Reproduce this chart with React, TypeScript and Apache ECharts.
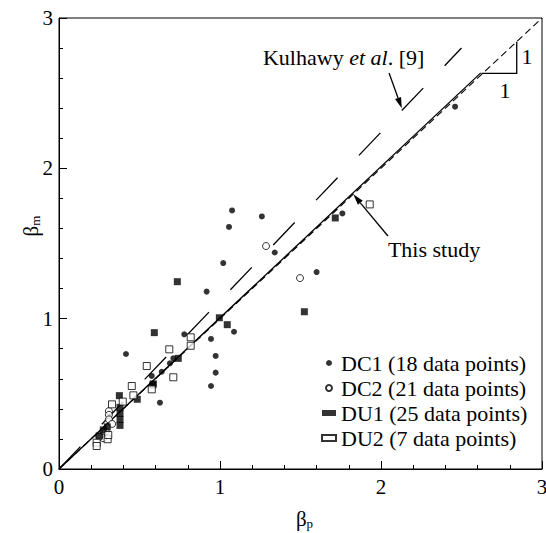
import React, { useEffect, useRef } from 'react';
import * as echarts from 'echarts';

// ---- data (beta_p, beta_m) ----
const dc1: number[][] = [
  [2.46, 2.41], [1.075, 1.72], [1.26, 1.68], [1.056, 1.61], [1.34, 1.44],
  [1.02, 1.37], [0.917, 1.18], [1.6, 1.31], [0.778, 0.896], [1.087, 0.913],
  [0.944, 0.865], [0.973, 0.752], [0.973, 0.641], [0.944, 0.552], [1.76, 1.7],
  [0.627, 0.441], [0.416, 0.765], [0.638, 0.647], [0.689, 0.703], [0.576, 0.619],
  [0.71, 0.736]
];
const dc2: number[][] = [
  [1.286, 1.483], [1.497, 1.27], [0.31, 0.385], [0.31, 0.36], [0.31, 0.33],
  [0.275, 0.205], [0.25, 0.215], [0.29, 0.25], [0.33, 0.3]
];
const du1: number[][] = [
  [1.716, 1.67], [0.735, 1.246], [1.524, 1.046], [0.996, 1.006], [1.045, 0.96],
  [0.592, 0.907], [0.741, 0.736], [0.582, 0.559], [0.375, 0.488], [0.379, 0.41],
  [0.379, 0.37], [0.379, 0.33], [0.379, 0.29], [0.275, 0.26], [0.486, 0.464],
  [0.586, 0.566], [0.3, 0.28], [0.25, 0.22]
];
const du2: number[][] = [
  [1.93, 1.76], [0.818, 0.876], [0.818, 0.82], [0.685, 0.796], [0.71, 0.61],
  [0.545, 0.685], [0.452, 0.552], [0.462, 0.49], [0.329, 0.43], [0.396, 0.448],
  [0.576, 0.53], [0.302, 0.198], [0.234, 0.175], [0.234, 0.153], [0.306, 0.226]
];
const oneToOne: number[][] = [[0, 0], [3, 3]];
const thisStudy: number[][] = [[0, 0], [2.62, 2.635]];
const kulhawy: number[][] = [[0, 0], [2.5, 2.8]];

const seriesNames = [
  'DC1 (18 data points)',
  'DC2 (21 data points)',
  'DU1 (25 data points)',
  'DU2 (7 data points)'
];

// ---- annotation anchors (data coords) ----
const kulhawyLabel = [1.267, 2.734];
const kulhawyArrow = [[2.05, 2.634], [2.129, 2.399]];
const studyLabel = [2.043, 1.463];
const studyArrow = [[2.043, 1.55], [1.828, 1.827]];
const slopeTri = [[2.625, 2.632], [2.843, 2.632], [2.843, 2.842]];
const slopeLabelV = [2.907, 2.743];
const slopeLabelH = [2.77, 2.521];

const FONT = "'Liberation Serif', 'Times New Roman', serif";

export default function App() {
  const ref = useRef<HTMLDivElement>(null);
  useEffect(() => {
    const chart = echarts.init(ref.current!, null, { renderer: 'svg' });
    const axisCommon = {
      type: 'value',
      min: 0,
      max: 3,
      interval: 1,
      axisLine: { show: true, lineStyle: { color: '#000', width: 1 } },
      axisTick: { show: true, inside: true, length: 8, lineStyle: { color: '#000', width: 1 } },
      minorTick: { show: true, splitNumber: 5, length: 4, lineStyle: { color: '#000', width: 1 } },
      splitLine: { show: false },
      minorSplitLine: { show: false }
    };
    const lineSeries = (data: number[][], type: any, width: number) => ({
      type: 'line',
      data,
      showSymbol: false,
      symbol: 'none',
      silent: true,
      legendHoverLink: false,
      lineStyle: { color: '#000', width, type },
      z: 1
    });
    chart.setOption({
      animation: false,
      backgroundColor: '#fff',
      textStyle: { fontFamily: FONT },
      grid: {
        left: 59, right: 4, top: 18, bottom: 64,
        show: true, borderColor: '#000', borderWidth: 1,
        containLabel: false, outerBoundsMode: 'none'
      },
      xAxis: {
        ...axisCommon,
        axisLabel: { color: '#000', fontFamily: FONT, fontSize: 21, margin: 7 }
      },
      yAxis: {
        ...axisCommon,
        axisLabel: { color: '#000', fontFamily: FONT, fontSize: 21, margin: 6 }
      },
      legend: {
        show: true,
        orient: 'vertical',
        left: 321,
        top: 352,
        padding: 0,
        itemGap: 3,
        itemWidth: 14,
        itemHeight: 6,
        selectedMode: false,
        data: seriesNames,
        textStyle: { fontFamily: FONT, fontSize: 22, color: '#000' }
      },
      series: [
        lineSeries(oneToOne, [7, 4], 1.1),
        lineSeries(thisStudy, 'solid', 1.3),
        lineSeries(kulhawy, [31, 31], 1.3),
        {
          name: seriesNames[0], type: 'scatter', data: dc1, symbol: 'circle', symbolSize: 6,
          itemStyle: { color: '#000' }, z: 3
        },
        {
          name: seriesNames[1], type: 'scatter', data: dc2, symbol: 'circle', symbolSize: 7,
          itemStyle: { color: '#fff', borderColor: '#000', borderWidth: 1 }, z: 3
        },
        {
          name: seriesNames[2], type: 'scatter', data: du1, symbol: 'rect', symbolSize: 7,
          itemStyle: { color: '#000' }, z: 3
        },
        {
          name: seriesNames[3], type: 'scatter', data: du2, symbol: 'rect', symbolSize: 7,
          itemStyle: { color: '#fff', borderColor: '#000', borderWidth: 1 }, z: 3
        }
      ]
    });

    const P = (p: number[]) => chart.convertToPixel({ gridIndex: 0 }, p) as number[];
    const arrow = (from: number[], to: number[]) => {
      const a = P(from);
      const b = P(to);
      const dx = b[0] - a[0];
      const dy = b[1] - a[1];
      const len = Math.sqrt(dx * dx + dy * dy);
      const ux = dx / len;
      const uy = dy / len;
      const hl = 11;
      const hw = 3.2;
      const bx = b[0] - ux * hl;
      const by = b[1] - uy * hl;
      return [
        {
          type: 'line',
          shape: { x1: a[0], y1: a[1], x2: bx, y2: by },
          style: { stroke: '#000', lineWidth: 1.3 },
          silent: true
        },
        {
          type: 'polygon',
          shape: {
            points: [
              [b[0], b[1]],
              [bx - uy * hw, by + ux * hw],
              [bx + uy * hw, by - ux * hw]
            ]
          },
          style: { fill: '#000' },
          silent: true
        }
      ];
    };
    const kl = P(kulhawyLabel);
    const sl = P(studyLabel);
    const sv = P(slopeLabelV);
    const sh = P(slopeLabelH);
    const plotLeft = P([0, 0]);
    const plotRight = P([3, 3]);
    const xCenter = (plotLeft[0] + plotRight[0]) / 2;

    chart.setOption({
      graphic: [
        {
          type: 'text',
          x: kl[0], y: kl[1],
          silent: true,
          style: {
            text: '{n|Kulhawy }{i|et al}{n|. [9]}',
            align: 'left',
            verticalAlign: 'middle',
            fontFamily: FONT,
            fontSize: 22,
            rich: {
              n: { fontFamily: FONT, fontSize: 22, fill: '#000' },
              i: { fontFamily: FONT, fontSize: 22, fontStyle: 'italic', fill: '#000' }
            }
          }
        },
        ...arrow(kulhawyArrow[0], kulhawyArrow[1]),
        {
          type: 'text',
          x: sl[0], y: sl[1],
          silent: true,
          style: {
            text: 'This study', fontFamily: FONT, fontSize: 22, fill: '#000',
            align: 'left', verticalAlign: 'middle'
          }
        },
        ...arrow(studyArrow[0], studyArrow[1]),
        {
          type: 'polyline',
          silent: true,
          shape: { points: slopeTri.map(P) },
          style: { stroke: '#000', lineWidth: 1.3, fill: null }
        },
        {
          type: 'text', x: sv[0], y: sv[1], silent: true,
          style: { text: '1', fontFamily: FONT, fontSize: 22, fill: '#000', align: 'center', verticalAlign: 'middle' }
        },
        {
          type: 'text', x: sh[0], y: sh[1], silent: true,
          style: { text: '1', fontFamily: FONT, fontSize: 22, fill: '#000', align: 'center', verticalAlign: 'middle' }
        },
        {
          type: 'text', x: xCenter + 4, y: 519, silent: true,
          style: {
            text: '{b|β}{s|p}',
            align: 'center', verticalAlign: 'middle',
            fontFamily: FONT,
            rich: {
              b: { fontFamily: FONT, fontSize: 21, fill: '#000', lineHeight: 22 },
              s: { fontFamily: FONT, fontSize: 13, fill: '#000', lineHeight: 13, verticalAlign: 'bottom' }
            }
          }
        },
        {
          type: 'text', x: 31, y: 226, rotation: Math.PI / 2, silent: true,
          style: {
            text: '{b|β}{s|m}',
            align: 'center', verticalAlign: 'middle',
            fontFamily: FONT,
            rich: {
              b: { fontFamily: FONT, fontSize: 21, fill: '#000', lineHeight: 22 },
              s: { fontFamily: FONT, fontSize: 13, fill: '#000', lineHeight: 13, verticalAlign: 'bottom' }
            }
          }
        }
      ]
    });
    return () => chart.dispose();
  }, []);
  return (
    <div
      ref={ref}
      style={{ position: 'absolute', left: 0, top: 0, width: 546, height: 533 }}
    />
  );
}
